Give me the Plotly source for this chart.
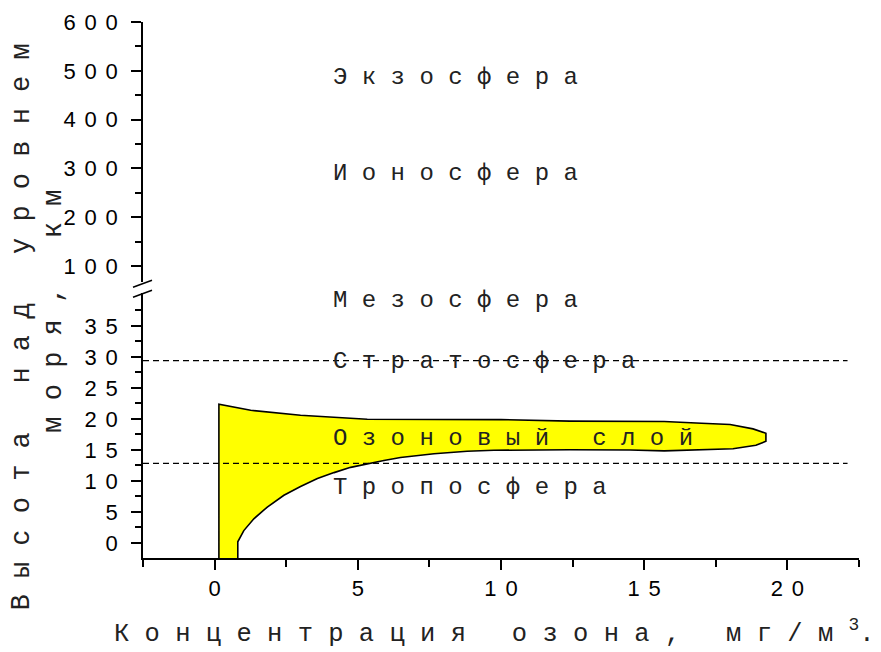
import plotly.graph_objects as go

# ---- data ----
# ozone layer outline: upper (outer) boundary, left -> right
upper_x = [0.15, 0.15, 1.26, 3.0, 5.33, 10.0, 12.4, 15.7, 17.0, 18.0, 18.8, 19.25]
upper_y = [-2.42, 22.4, 21.4, 20.6, 19.95, 19.9, 19.65, 19.6, 19.3, 19.1, 18.4, 17.7]
# lower (inner) boundary, right -> left
lower_x = [19.25, 18.9, 18.1, 16.5, 15.7, 14.5, 12.4, 9.75, 8.82, 7.66, 6.49, 5.91, 5.33,
           4.75, 4.17, 3.59, 3.0, 2.42, 1.84, 1.37, 1.02, 0.81, 0.81]
lower_y = [16.4, 15.75, 15.2, 15.0, 14.85, 15.0, 15.05, 14.95, 14.8, 14.4, 13.8, 13.3, 12.8,
           12.2, 11.35, 10.4, 9.1, 7.7, 5.8, 3.9, 2.0, 0.2, -2.42]

boundary_names = ["Стратосфера/мезосфера", "Тропосфера/стратосфера"]
boundary_heights = [29.4, 12.85]
boundary_x = [-2.5, 22.1]

x_ticks = [0, 5, 10, 15, 20]
x_minor = [-2.5, 2.5, 7.5, 12.5, 17.5, 22.5]
low_ticks = [0, 5, 10, 15, 20, 25, 30, 35]
low_minor = [-2.5, 2.5, 7.5, 12.5, 17.5, 22.5, 27.5, 32.5, 37.5]
up_ticks = [100, 200, 300, 400, 500, 600]
up_minor = [150, 250, 350, 450, 550]

# layer labels: (text, x, y, axis)
layer_labels = [
    ("Э к з о с ф е р а", 4.05, 486, "y2"),
    ("И о н о с ф е р а", 4.05, 290, "y2"),
    ("М е з о с ф е р а", 4.05, 39.1, "y"),
    ("С т р а т о с ф е р а", 4.05, 29.3, "y"),
    ("О з о н о в ы й   с л о й", 4.05, 16.85, "y"),
    ("Т р о п о с ф е р а", 4.05, 8.95, "y"),
]


def spaced(v, sp=8.8):
    s = str(v)
    if len(s) == 1:
        return s
    return f'<span style="letter-spacing:{sp}px">{s[:-1]}</span>{s[-1]}'


fig = go.Figure()

fig.add_trace(go.Scatter(
    x=upper_x + lower_x, y=upper_y + lower_y,
    mode="lines", fill="toself", fillcolor="#FFFF00",
    line=dict(color="black", width=1.6), hoverinfo="skip", showlegend=False,
))

for name, h in zip(boundary_names, boundary_heights):
    fig.add_trace(go.Scatter(
        x=boundary_x, y=[h, h], mode="lines", name=name,
        line=dict(color="black", width=1.2, dash="6px,4px"), showlegend=False,
    ))

mono = "Liberation Mono"
sans = "Liberation Sans"
for text, x, y, ax in layer_labels:
    fig.add_annotation(text=text, x=x, y=y, xref="x", yref=ax, showarrow=False,
                       xanchor="left", yanchor="middle",
                       font=dict(family=mono, size=24, color="#222"))

# axis titles as annotations
fig.add_annotation(text="В ы с о т а   н а д   у р о в н е м", xref="paper", yref="paper",
                   x=-0.169, y=0.432, textangle=-90, showarrow=False,
                   xanchor="center", yanchor="middle",
                   font=dict(family=mono, size=27, color="#222"))
fig.add_annotation(text="м о р я ,   к м", xref="paper", yref="paper",
                   x=-0.124, y=0.460, textangle=-90, showarrow=False,
                   xanchor="center", yanchor="middle",
                   font=dict(family=mono, size=27, color="#222"))
fig.add_annotation(text="К о н ц е н т р а ц и я   о з о н а ,   м г / м <sup>3</sup>.",
                   xref="paper", yref="paper", x=0.4916, y=-0.1386, showarrow=False,
                   xanchor="center", yanchor="middle",
                   font=dict(family=mono, size=25.5, color="#222"))

# axis break marks
for y0, y1 in [(287, 280), (297, 290)]:
    fig.add_shape(type="line", xref="paper", yref="paper",
                  x0=(133 - 143) / 716, x1=(152 - 143) / 716,
                  y0=(557.7 - y0) / 536, y1=(557.7 - y1) / 536,
                  line=dict(color="black", width=1.5))

tickfont = dict(family=sans, size=22, color="black")
common = dict(showline=True, linecolor="black", linewidth=1.5, ticks="outside", ticklen=10,
              tickwidth=1.5, tickcolor="black", tickmode="array", showgrid=False,
              zeroline=False, tickfont=tickfont, automargin=False)
fig.update_layout(
    width=881, height=652,
    margin=dict(l=143, r=22, t=21.7, b=94.3, autoexpand=False),
    paper_bgcolor="white", plot_bgcolor="white",
    showlegend=False,
    xaxis=dict(range=[-2.5, 22.5], tickvals=x_ticks, ticktext=[spaced(v) for v in x_ticks],
               minor=dict(tickmode="array", tickvals=x_minor, ticks="outside", ticklen=7,
                          tickwidth=1.5, tickcolor="black", showgrid=False),
               anchor="y", **common),
    yaxis=dict(domain=[0, 0.4942], range=[-2.42, 40.3],
               tickvals=low_ticks, ticktext=[spaced(v) for v in low_ticks],
               minor=dict(tickmode="array", tickvals=low_minor, ticks="outside", ticklen=6,
                          tickwidth=1.5, tickcolor="black", showgrid=False),
               ticklabelstandoff=9, **common),
    yaxis2=dict(domain=[0.5144, 1], range=[66.6, 600],
                tickvals=up_ticks, ticktext=[spaced(v) for v in up_ticks],
                minor=dict(tickmode="array", tickvals=up_minor, ticks="outside", ticklen=6,
                           tickwidth=1.5, tickcolor="black", showgrid=False),
                ticklabelstandoff=9, anchor="x", **common),
)

fig.write_html(
    "out.html",
    config={"displayModeBar": False},
    post_script="document.body.style.margin='0';document.body.style.overflow='hidden';"
                "document.documentElement.style.overflow='hidden';",
)
